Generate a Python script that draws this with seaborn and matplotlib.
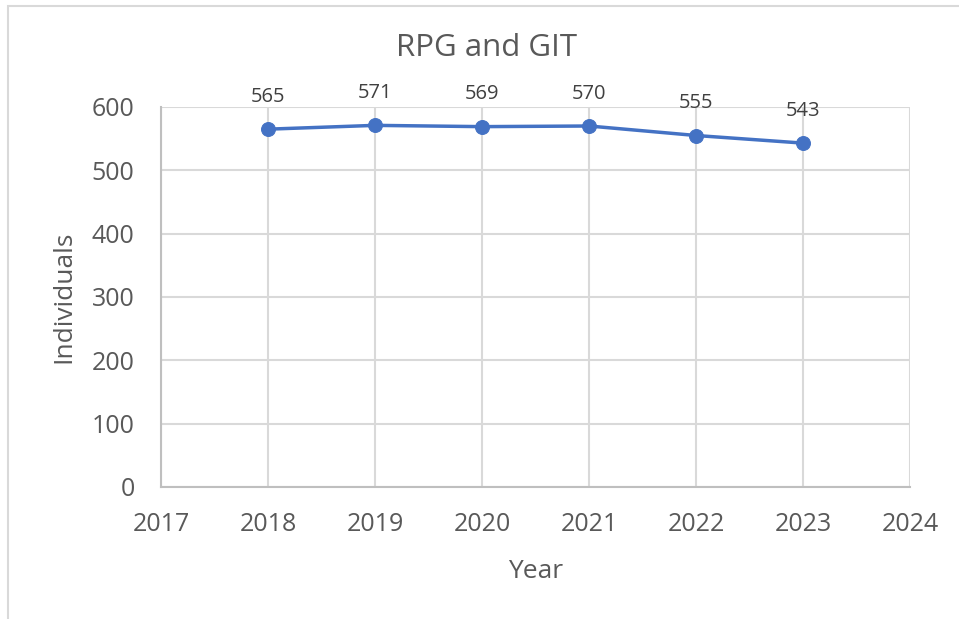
import matplotlib
matplotlib.use("Agg")
import matplotlib.pyplot as plt
import seaborn as sns
import pandas as pd
from matplotlib.patches import Rectangle

years = [2018, 2019, 2020, 2021, 2022, 2023]
individuals = [565, 571, 569, 570, 555, 543]
x_ticks = [2017, 2018, 2019, 2020, 2021, 2022, 2023, 2024]
y_ticks = [0, 100, 200, 300, 400, 500, 600]

sns.set_theme(style="white")
plt.rcParams["font.family"] = ["Open Sans", "DejaVu Sans"]

text_col = "#595959"
grid_col = "#D9D9D9"
line_col = "#4472C4"

df = pd.DataFrame({"Year": years, "Individuals": individuals})

fig = plt.figure(figsize=(9.59, 6.19), dpi=100)
ax = fig.add_axes([161 / 959, 1 - 487 / 619, (910 - 161) / 959, (487 - 107) / 619])

# chart border like the excel chart area
fig.patches.append(Rectangle((8 / 959, -0.1), 1.2, 1.1 - 6 / 619, transform=fig.transFigure,
                             fill=False, edgecolor=grid_col, linewidth=1.5))

sns.lineplot(data=df, x="Year", y="Individuals", ax=ax, color=line_col, linewidth=2.5,
             marker="o", markersize=10, markeredgecolor=line_col)

for x, y in zip(years, individuals):
    ax.annotate(str(y), (x, y), textcoords="offset points", xytext=(0, 16),
                ha="center", va="bottom", fontsize=14.5, color="#404040")

ax.set_xlim(2017, 2024)
ax.set_ylim(0, 600)
ax.set_xticks(x_ticks)
ax.set_yticks(y_ticks)
ax.grid(True, color=grid_col, linewidth=1.5)
ax.set_axisbelow(True)
for side in ["top", "right"]:
    ax.spines[side].set_visible(False)
for side in ["left", "bottom"]:
    ax.spines[side].set_color("#BFBFBF")
    ax.spines[side].set_linewidth(1.5)

ax.tick_params(axis="both", length=0, labelsize=18, labelcolor=text_col)
ax.tick_params(axis="x", pad=18)
ax.tick_params(axis="y", pad=19)
ax.set_xlabel("Year", fontsize=19, color=text_col, labelpad=16)
ax.set_ylabel("Individuals", fontsize=19, color=text_col, labelpad=11)

fig.text(487 / 959, 1 - 48 / 619, "RPG and GIT", ha="center", va="center",
         fontsize=22.5, color=text_col)

fig.savefig("out.png", dpi=100)
